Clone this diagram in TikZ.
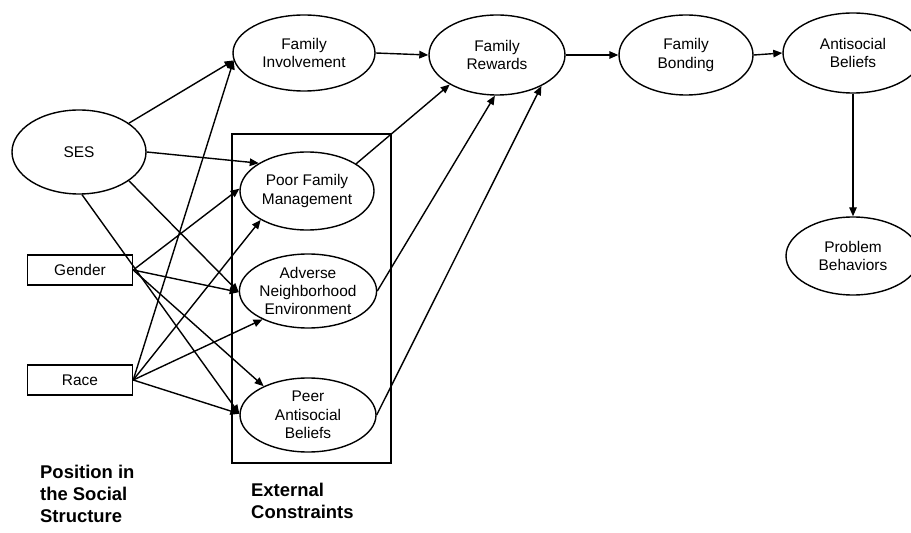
\documentclass[tikz,border=0pt]{standalone}
\usepackage{fontspec}
\setmainfont{Liberation Sans}
\usetikzlibrary{arrows.meta,shapes.geometric}
\tikzset{
  latent/.style={ellipse, draw, line width=1.4bp, inner sep=0pt, align=center,
    font=\fontsize{15.5}{18.5}\selectfont},
  observed/.style={rectangle, draw, line width=1.4bp, inner sep=0pt, align=center,
    minimum width=105bp, minimum height=30bp, font=\fontsize{15.5}{18.5}\selectfont},
  path/.style={line width=1.4bp, -{Triangle[length=9bp,width=7.5bp]}},
  heading/.style={anchor=north west, inner sep=0pt, align=left,
    font=\fontsize{18.5}{22}\selectfont\bfseries},
}
\begin{document}
\begin{tikzpicture}[x=1bp, y=-1bp]
\useasboundingbox (0,0) rectangle (911,533);

% box grouping the external constraints
\node[draw, line width=1.2bp, inner sep=0pt, minimum width=159bp, minimum height=329bp]
  (constraints) at (311.5,298.5) {};

% exogenous variables
\node[latent, minimum width=134bp, minimum height=84bp] (ses) at (79,152) {SES};
\node[observed] (gender) at (80,270) {Gender};
\node[observed] (race) at (80,380) {Race};

% mediators
\node[latent, minimum width=142bp, minimum height=76bp] (fi) at (304,53) {Family\\Involvement};
\node[latent, minimum width=134bp, minimum height=78bp] (pfm) at (307,191) {Poor Family\\Management};
\node[latent, minimum width=136bp, minimum height=74bp] (adv) at (308,291) {Adverse\\Neighborhood\\Environment};
\node[latent, minimum width=136bp, minimum height=74bp] (peer) at (308,415) {Peer\\Antisocial\\Beliefs};

% main chain
\node[latent, minimum width=136bp, minimum height=80bp] (fr) at (497,55) {Family\\Rewards};
\node[latent, minimum width=134bp, minimum height=80bp] (fb) at (686,55) {Family\\Bonding};
\node[latent, minimum width=140bp, minimum height=80bp] (ab) at (853,53) {Antisocial\\Beliefs};
\node[latent, minimum width=134bp, minimum height=78bp] (pb) at (853,256) {Problem\\Behaviors};

% group labels
\node[heading] (posl) at (40,465) {Position in\\the Social\\Structure};
\node[heading] (extl) at (251,483) {External\\Constraints};

% paths from social position
\draw[path] (ses.30) -- (fi.186);
\draw[path] (ses.east) -- (pfm.150);
\draw[path] (ses.-30) -- (adv.181);
\draw[path] (ses.-86) -- (peer.179);

\draw[path] (gender.east) -- (pfm.178);
\draw[path] (gender.east) -- (adv.181);
\draw[path] (gender.east) -- (peer.147);

\draw[path] (race.east) -- (fi.186);
\draw[path] (race.east) -- (pfm.212);
\draw[path] (race.east) -- (adv.212);
\draw[path] (race.east) -- (peer.179);

% paths into family rewards
\draw[path] (fi.east) -- (fr.west);
\draw[path] (pfm.29) -- (fr.212);
\draw[path] (adv.east) -- (fr.267);
\draw[path] (peer.east) -- (fr.325);

% developmental chain
\draw[path] (fr.east) -- (fb.west);
\draw[path] (fb.east) -- (ab.west);
\draw[path] (ab.south) -- (pb.north);
\end{tikzpicture}
\end{document}
